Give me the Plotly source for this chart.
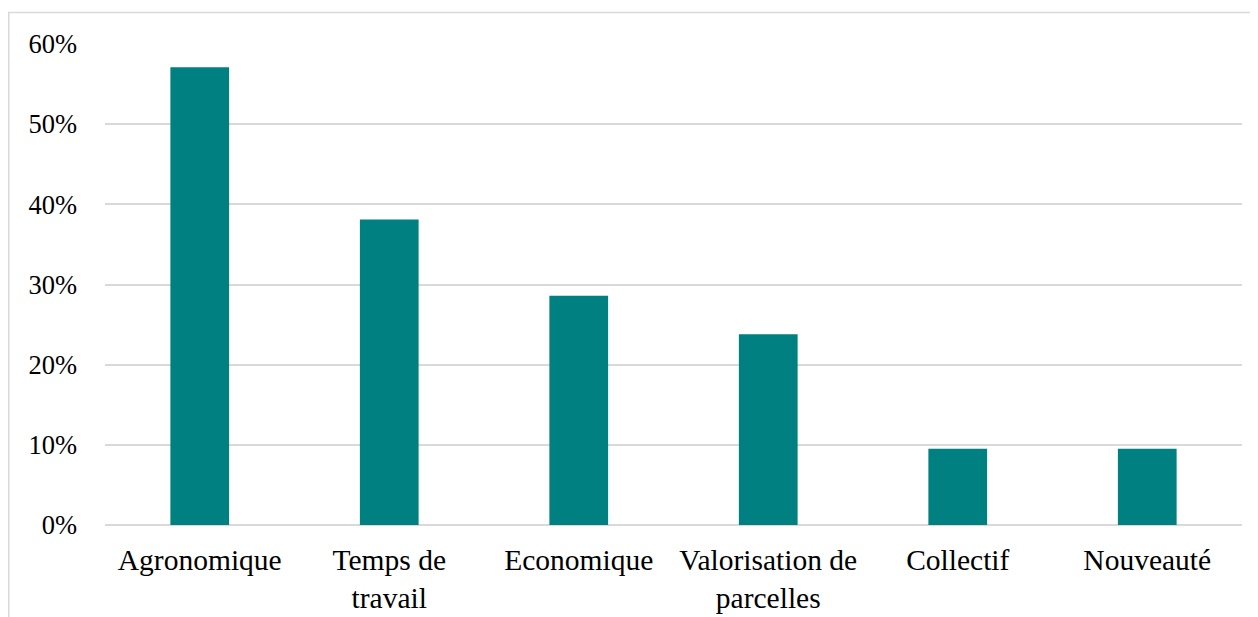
import plotly.graph_objects as go

categories = ["Agronomique", "Temps de<br>travail", "Economique", "Valorisation de<br>parcelles", "Collectif", "Nouveauté"]
values = [0.571, 0.381, 0.286, 0.238, 0.095, 0.095]
tick_vals = [0, 0.1, 0.2, 0.3, 0.4, 0.5, 0.6]
tick_text = ["0%", "10%", "20%", "30%", "40%", "50%", "60%"]

FONT = "Liberation Serif, Times New Roman, serif"

# page has an 8px body margin, so the figure is drawn at (8, 8)
W, H = 1250, 609
ml, mr, mt, mb = 97, 16, 36, 92
pw = W - ml - mr
ph = H - mt - mb

fig = go.Figure(go.Bar(x=categories, y=values, marker=dict(color="#008080", line=dict(width=0)), width=0.31))

fig.update_layout(
    width=W, height=H,
    margin=dict(l=ml, r=mr, t=mt, b=mb, autoexpand=False),
    paper_bgcolor="white", plot_bgcolor="white",
    font=dict(family=FONT, size=26, color="#000000"),
    showlegend=False,
)
fig.update_yaxes(range=[0, 0.6], tickvals=tick_vals, ticktext=tick_text, showgrid=True,
                 gridcolor="#d9d9d9", gridwidth=1.5, zeroline=True, zerolinecolor="#d9d9d9",
                 zerolinewidth=1.5, showline=False, ticks="", ticklabelstandoff=27,
                 tickfont=dict(family=FONT, size=26.5, color="#000000"), automargin=False)
fig.update_xaxes(showgrid=False, showline=False, ticks="", ticklabelstandoff=14,
                 tickfont=dict(family=FONT, size=29.5, color="#000000"), automargin=False)

# outer chart frame (cropped at right and bottom)
fig.add_shape(type="rect", xref="paper", yref="paper",
              x0=(0.75 - ml) / pw, x1=1.1, y0=-0.4, y1=(H - mb - 4.5) / ph,
              line=dict(color="#d9d9d9", width=1.5), layer="below")

fig.write_html("out.html")
